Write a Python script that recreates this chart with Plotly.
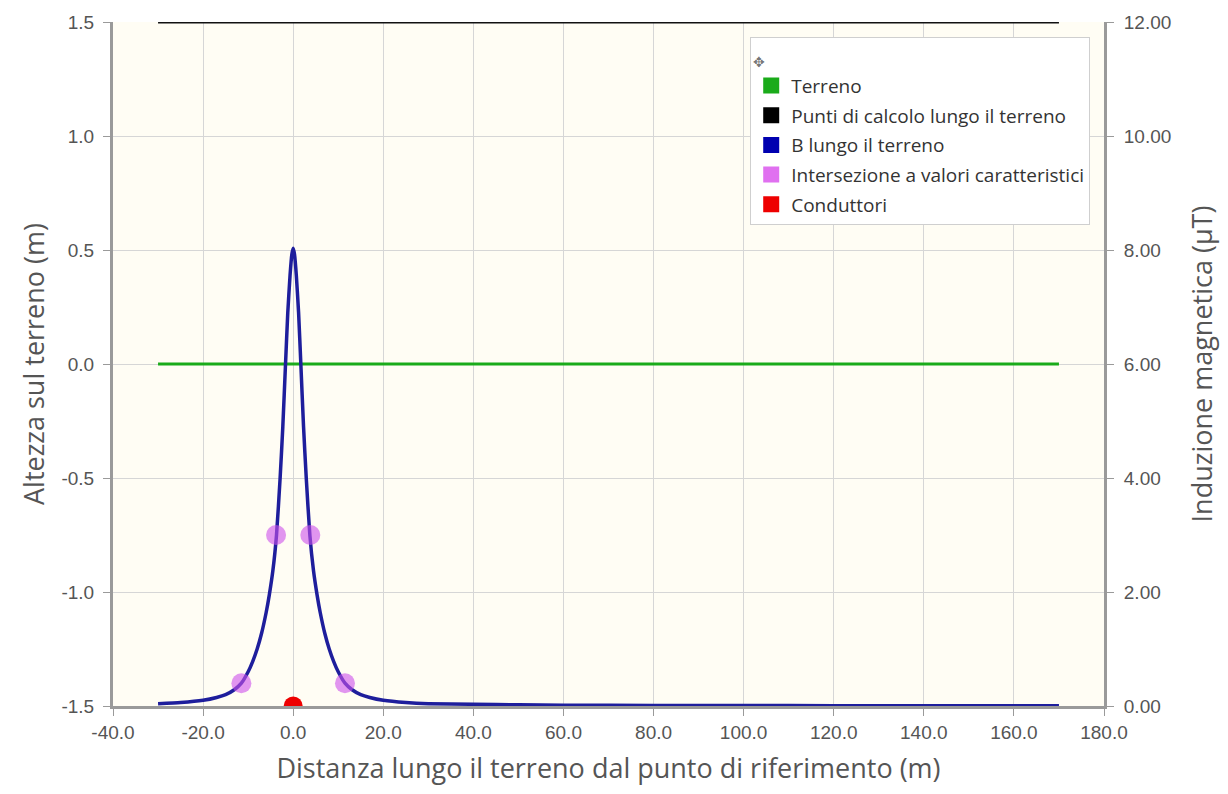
import plotly.graph_objects as go

# ---- data ----
terreno_x = [-30.0, 170.0]
terreno_y = [0.0, 0.0]

punti_x = [-30.0, 170.0]
punti_y = [1.5, 1.5]

b_x = [-30.0, -25.0, -20.0, -17.0, -15.0, -13.0, -11.5, -10.0, -9.0, -8.0, -7.0, -6.0,
       -5.3, -4.5, -3.7, -2.9, -2.3, -1.7, -1.2, -0.7, -0.3, 0.0,
       0.3, 0.7, 1.2, 1.7, 2.3, 2.9, 3.7, 4.5, 5.3, 6.0, 7.0, 8.0, 9.0, 10.0,
       11.5, 13.0, 15.0, 17.0, 20.0, 25.0, 30.0, 40.0, 50.0, 60.0, 80.0,
       100.0, 120.0, 140.0, 170.0]
b_val = [0.04, 0.06, 0.10, 0.15, 0.20, 0.29, 0.40, 0.60, 0.78, 1.00, 1.28, 1.64,
         1.95, 2.38, 3.00, 4.00, 4.90, 6.00, 6.90, 7.55, 7.92, 8.03,
         7.92, 7.55, 6.90, 6.00, 4.90, 4.00, 3.00, 2.38, 1.95, 1.64, 1.28, 1.00, 0.78, 0.60,
         0.40, 0.29, 0.20, 0.15, 0.10, 0.06, 0.04, 0.03, 0.02, 0.015, 0.01,
         0.008, 0.006, 0.005, 0.004]

inters_x = [-11.5, -3.8, 3.8, 11.5]
inters_b = [0.40, 3.00, 3.00, 0.40]

cond_x = [0.0]
cond_y = [-1.5]

legend_names = ["Terreno", "Punti di calcolo lungo il terreno", "B lungo il terreno",
                "Intersezione a valori caratteristici", "Conduttori"]
legend_colors = ["#1aab1a", "#000000", "#0000b0", "#e070f0", "#ee0000"]

x_ticks = [-40, -20, 0, 20, 40, 60, 80, 100, 120, 140, 160, 180]
x_labels = ["-40.0", "-20.0", "0.0", "20.0", "40.0", "60.0", "80.0", "100.0",
            "120.0", "140.0", "160.0", "180.0"]
yl_ticks = [-1.5, -1.0, -0.5, 0.0, 0.5, 1.0, 1.5]
yl_labels = ["-1.5", "-1.0", "-0.5", "0.0", "0.5", "1.0", "1.5"]
yr_ticks = [0, 2, 4, 6, 8, 10, 12]
yr_labels = ["0.00", "2.00", "4.00", "6.00", "8.00", "10.00", "12.00"]

fig = go.Figure()

fig.add_trace(go.Scatter(x=terreno_x, y=terreno_y, mode="lines",
                         line=dict(color="#1aab1a", width=3), showlegend=False))
fig.add_trace(go.Scatter(x=punti_x, y=punti_y, mode="lines",
                         line=dict(color="#111111", width=3), showlegend=False))
fig.add_trace(go.Scatter(x=cond_x, y=cond_y, mode="markers",
                         marker=dict(color="#ee0000", size=19), showlegend=False))
fig.add_trace(go.Scatter(x=b_x, y=b_val, mode="lines", yaxis="y2",
                         line=dict(color="#1e1e9c", width=3.5, shape="spline",
                                   smoothing=0.5),
                         showlegend=False))
fig.add_trace(go.Scatter(x=inters_x, y=inters_b, mode="markers", yaxis="y2",
                         marker=dict(color="rgba(205,80,235,0.6)", size=20),
                         showlegend=False))

# legend entries as coloured squares
for i, (name, col) in enumerate(zip(legend_names, legend_colors)):
    fig.add_trace(go.Scatter(x=[None], y=[None], mode="markers", name=name,
                             legendgroup="g%d" % i,
                             marker=dict(symbol="square", size=19, color=col),
                             showlegend=True))

axis_col = "#9a9a9a"
grid_col = "#d6d6d6"
tick_font = dict(family="Liberation Sans, Arial, sans-serif", size=19, color="#555555")
title_font = dict(family="Open Sans, Lato, sans-serif", size=27, color="#555555")

fig.update_layout(
    width=1212, height=778,
    margin=dict(l=105, r=116, t=14, b=80),
    paper_bgcolor="white",
    plot_bgcolor="#fffdf4",
    xaxis=dict(range=[-40, 180], tickvals=x_ticks, ticktext=x_labels,
               showgrid=True, gridcolor=grid_col, gridwidth=1,
               showline=True, linecolor=axis_col, linewidth=3, mirror=False,
               ticks="outside", ticklen=7, tickcolor=axis_col, tickfont=tick_font,
               zeroline=False, automargin=False,
               title=dict(text="Distanza lungo il terreno dal punto di riferimento (m)",
                          font=title_font, standoff=20)),
    yaxis=dict(range=[-1.5, 1.5], tickvals=yl_ticks, ticktext=yl_labels,
               showgrid=True, gridcolor=grid_col, gridwidth=1,
               showline=True, linecolor=axis_col, linewidth=3,
               ticks="outside", ticklen=7, tickcolor=axis_col, tickfont=tick_font,
               ticklabelstandoff=5,
               zeroline=False, automargin=False,
               title=dict(text="Altezza sul terreno (m)", font=title_font, standoff=10)),
    yaxis2=dict(range=[0, 12], tickvals=yr_ticks, ticktext=yr_labels,
                overlaying="y", side="right", showgrid=False,
                showline=True, linecolor=axis_col, linewidth=3,
                ticks="outside", ticklen=7, tickcolor=axis_col, tickfont=tick_font,
                ticklabelstandoff=6,
                zeroline=False, automargin=False,
                title=dict(text="Induzione magnetica (µT)", font=title_font, standoff=26)),
    legend=dict(x=0.643, y=0.978, xanchor="left", yanchor="top",
                bgcolor="white", bordercolor="#cfcfcf", borderwidth=1,
                font=dict(family="Open Sans, Lato, sans-serif", size=19, color="#333333"),
                title=dict(text="<span style='font-size:14px'>✥</span>",
                           font=dict(size=22, color="#777777")),
                itemsizing="trace", tracegroupgap=2),
    showlegend=True,
)

fig.write_html("out.html")
